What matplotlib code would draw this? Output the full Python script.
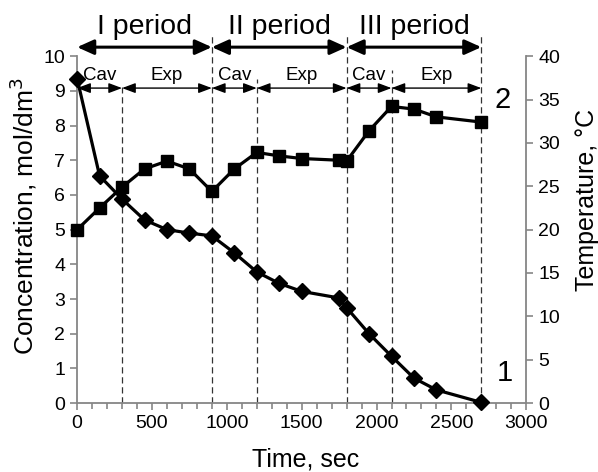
import matplotlib.pyplot as plt
from matplotlib.ticker import MultipleLocator

plt.rcParams['font.family'] = ['Liberation Sans', 'DejaVu Sans']

# concentration (curve 1, diamonds)
t_conc = [0, 150, 300, 450, 600, 750, 900, 1050, 1200, 1350, 1500, 1750, 1800,
          1950, 2100, 2250, 2400, 2700]
conc = [9.35, 6.55, 5.88, 5.28, 5.0, 4.9, 4.82, 4.33, 3.78, 3.45, 3.22, 3.03, 2.75,
        2.0, 1.35, 0.72, 0.38, 0.02]

# temperature (curve 2, squares)
t_temp = [0, 150, 300, 450, 600, 750, 900, 1050, 1200, 1350, 1500, 1750, 1800,
          1950, 2100, 2250, 2400, 2700]
temp = [20.0, 22.5, 24.9, 27.0, 27.9, 27.0, 24.4, 27.0, 28.9, 28.5, 28.2, 28.0, 27.9,
        31.4, 34.2, 33.9, 33.0, 32.4]

# stage boundaries
period_edges = [0, 900, 1800, 2700]
period_names = ['I period', 'II period', 'III period']
stage_edges = [0, 300, 900, 1200, 1800, 2100, 2700]
stage_names = ['Cav', 'Exp', 'Cav', 'Exp', 'Cav', 'Exp']
dash_x = [300, 900, 1200, 1800, 2100, 2700]
dash_top = [9.1, 10.65, 9.35, 10.65, 9.6, 10.65]

gray = '#868686'

fig = plt.figure(figsize=(5.98, 4.72), dpi=100)
ax = fig.add_axes([0.129, 0.146, 0.751, 0.735])
ax2 = ax.twinx()

# dashed separators
for x, top in zip(dash_x, dash_top):
    ax.plot([x, x], [0, top], ls=(0, (5, 3)), color='#333333', lw=0.9, clip_on=False, zorder=1)

ax.plot(t_conc, conc, color='black', lw=2.3, marker='D', ms=8.5, clip_on=False, zorder=5)
ax2.plot(t_temp, temp, color='black', lw=2.3, marker='s', ms=9, clip_on=False, zorder=5)

ax.set_xlim(0, 3000)
ax.set_ylim(0, 10)
ax2.set_ylim(0, 40)
ax.xaxis.set_major_locator(MultipleLocator(500))
ax.xaxis.set_minor_locator(MultipleLocator(100))
ax.yaxis.set_major_locator(MultipleLocator(1))
ax2.yaxis.set_major_locator(MultipleLocator(5))

for a in (ax, ax2):
    a.spines['top'].set_visible(False)
    for s in ('left', 'right', 'bottom'):
        a.spines[s].set_color(gray)
        a.spines[s].set_linewidth(1.3)
    a.tick_params(which='both', color=gray, width=1.2, labelsize=14, direction='out')
    a.tick_params(which='major', length=5)
    a.tick_params(which='minor', length=4)
ax2.spines['left'].set_visible(False)
ax.spines['right'].set_visible(False)
ax2.spines['bottom'].set_visible(False)

# axis titles placed like the original (not centred on the axes)
fig.text(306 / 598, 1 - 471 / 472, 'Time, sec', fontsize=18, ha='center', va='bottom')
fig.text(23 / 598, 1 - 216 / 472, 'Concentration, mol/dm$^3$', fontsize=19,
         rotation=90, ha='center', va='center')
fig.text(587 / 598, 1 - 200 / 472, 'Temperature, \u00b0C', fontsize=18,
         rotation=90, ha='center', va='center')

# period arrows
for i, name in enumerate(period_names):
    x0, x1 = period_edges[i], period_edges[i + 1]
    ax.annotate('', xy=(x0, 10.26), xytext=(x1, 10.26), annotation_clip=False,
                arrowprops=dict(arrowstyle='<|-|>,head_length=1.0,head_width=0.45',
                                color='black', lw=2.2, shrinkA=0, shrinkB=0))
    ax.text((x0 + x1) / 2, 10.85, name, ha='center', va='center', fontsize=20.5, clip_on=False)

# stage arrows
for i, name in enumerate(stage_names):
    x0, x1 = stage_edges[i], stage_edges[i + 1]
    ax.annotate('', xy=(x0, 9.08), xytext=(x1, 9.08), annotation_clip=False,
                arrowprops=dict(arrowstyle='<|-|>,head_length=0.8,head_width=0.3',
                                color='black', lw=1.0, shrinkA=0, shrinkB=0))
    ax.text((x0 + x1) / 2, 9.45, name, ha='center', va='center', fontsize=13.5)

ax.text(2840, 8.73, '2', fontsize=21, ha='center', va='center')
ax.text(2860, 0.86, '1', fontsize=21, ha='center', va='center')

plt.savefig('out.png', dpi=100)
